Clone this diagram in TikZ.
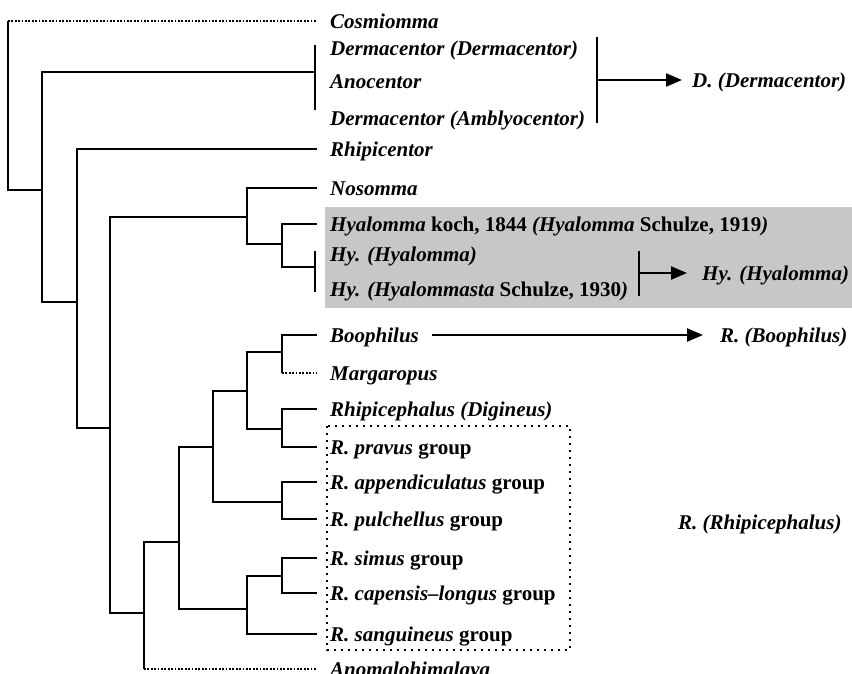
\documentclass[tikz,border=0pt]{standalone}
\usepackage{fontspec}
\setmainfont{Liberation Serif}
\usetikzlibrary{arrows.meta}
\newcommand{\gruppo}{\textup{ group}}

\begin{document}
\begin{tikzpicture}[x = 1pt, y = -1pt,
    ramo/.style = {line width = 2.4pt},
    puntinato/.style = {line width = 1.8pt, dash pattern = on 1.8pt off 1.6pt},
    foglia/.style = {anchor = west, inner xsep = 13pt, inner ysep = 0pt, text height = 15pt, text depth = 1pt,
        font = \fontsize{21}{25}\selectfont\bfseries\itshape},
    freccia/.style = {line width = 2.4pt, -{Triangle[length = 16pt, width = 13pt]}}]
    % Parametri
    \pgfmathsetmacro{\xfoglia}{317}
    \pgfmathsetmacro{\xbarra}{315}
    \useasboundingbox (0,0) rectangle (852,673);
    % Riquadri
    \fill[black!22] (325,207) rectangle (852,308);
    \draw[line width = 2.2pt, dash pattern = on 2.2pt off 4.8pt] (327,426) rectangle (570,650);
    % Foglie
    \node[foglia] (cosm) at (\xfoglia,21) {Cosmiomma};
    \node[foglia] (dermD) at (\xfoglia,48) {Dermacentor (Dermacentor)};
    \node[foglia] (anoc) at (\xfoglia,81) {Anocentor};
    \node[foglia] (dermA) at (\xfoglia,118) {Dermacentor (Amblyocentor)};
    \node[foglia] (rhcent) at (\xfoglia,149) {Rhipicentor};
    \node[foglia] (nosom) at (\xfoglia,188) {Nosomma};
    \node[foglia] (hyal) at (\xfoglia,224) {Hyalomma \textup{koch, 1844} (Hyalomma \textup{Schulze, 1919})};
    \node[foglia] (hyH) at (\xfoglia,254) {Hy. (Hyalomma)};
    \node[foglia] (hyHs) at (\xfoglia,289) {Hy. (Hyalommasta \textup{Schulze, 1930})};
    \node[foglia] (booph) at (\xfoglia,335) {Boophilus};
    \node[foglia] (marg) at (\xfoglia,373) {Margaropus};
    \node[foglia] (digin) at (\xfoglia,409) {Rhipicephalus (Digineus)};
    \node[foglia] (prav) at (\xfoglia,447) {R. pravus\gruppo};
    \node[foglia] (append) at (\xfoglia,482) {R. appendiculatus\gruppo};
    \node[foglia] (pulch) at (\xfoglia,519) {R. pulchellus\gruppo};
    \node[foglia] (simus) at (\xfoglia,558) {R. simus\gruppo};
    \node[foglia] (capens) at (\xfoglia,593) {R. capensis--longus\gruppo};
    \node[foglia] (sangu) at (\xfoglia,634) {R. sanguineus\gruppo};
    \node[foglia] (anomal) at (\xfoglia,669) {Anomalohimalaya};
    % Nodi interni
    \coordinate (r0) at (8,21);
    \coordinate (a1) at (42,190);
    \coordinate (dbar) at (\xbarra,72);
    \coordinate (a2) at (77,302);
    \coordinate (a3) at (110,428);
    \coordinate (a4) at (247,217);
    \coordinate (a5) at (282,244);
    \coordinate (hbar) at (\xbarra,267);
    \coordinate (b1) at (144,613);
    \coordinate (b2) at (179,542);
    \coordinate (b3) at (213,447);
    \coordinate (b4) at (247,391);
    \coordinate (b5) at (282,352);
    \coordinate (b6) at (282,429);
    \coordinate (b7) at (282,502);
    \coordinate (c1) at (247,609);
    \coordinate (c2) at (282,576);
    % Rami
    \draw[puntinato] (r0) -- (cosm.west);
    \draw[ramo] (r0) |- (a1);
    \draw[ramo] (a1) |- (dbar) (a1) |- (a2);
    \draw[ramo] (\xbarra,45) -- (\xbarra,110);
    \draw[ramo] (a2) |- (rhcent.west) (a2) |- (a3);
    \draw[ramo] (a3) |- (a4) (a3) |- (b1);
    \draw[ramo] (a4) |- (nosom.west) (a4) |- (a5);
    \draw[ramo] (a5) |- (hyal.west) (a5) |- (hbar);
    \draw[ramo] (\xbarra,251) -- (\xbarra,292);
    \draw[ramo] (b1) |- (b2) (b1) -- (b1 |- anomal.west);
    \draw[puntinato] (b1 |- anomal.west) -- (anomal.west);
    \draw[ramo] (b2) |- (b3) (b2) |- (c1);
    \draw[ramo] (b3) |- (b4) (b3) |- (b7);
    \draw[ramo] (b4) |- (b5) (b4) |- (b6);
    \draw[ramo] (b5) |- (booph.west) (b5) -- (b5 |- marg.west);
    \draw[puntinato] (b5 |- marg.west) -- (marg.west);
    \draw[ramo] (b6) |- (digin.west) (b6) |- (prav.west);
    \draw[ramo] (b7) |- (append.west) (b7) |- (pulch.west);
    \draw[ramo] (c1) |- (c2) (c1) |- (sangu.west);
    \draw[ramo] (c2) |- (simus.west) (c2) |- (capens.west);
    % Generi a destra
    \coordinate (dfr) at (597,80);
    \coordinate (hfr) at (639,273);
    \draw[ramo] (597,37) -- (597,123);
    \draw[ramo] (639,251) -- (639,296);
    \node[foglia, inner xsep = 10pt] (dgen) at (682,80) {D. (Dermacentor)};
    \node[foglia, inner xsep = 15pt] (hgen) at (687,273) {Hy. (Hyalomma)};
    \node[foglia, inner xsep = 17pt] (rbooph) at (703,335) {R. (Boophilus)};
    \node[foglia, inner xsep = 0pt] (rrhip) at (678,522) {R. (Rhipicephalus)};
    \draw[freccia] (dfr) -- (dgen);
    \draw[freccia] (hfr) -- (hgen);
    \draw[freccia] (booph) -- (rbooph);
\end{tikzpicture}
\end{document}
